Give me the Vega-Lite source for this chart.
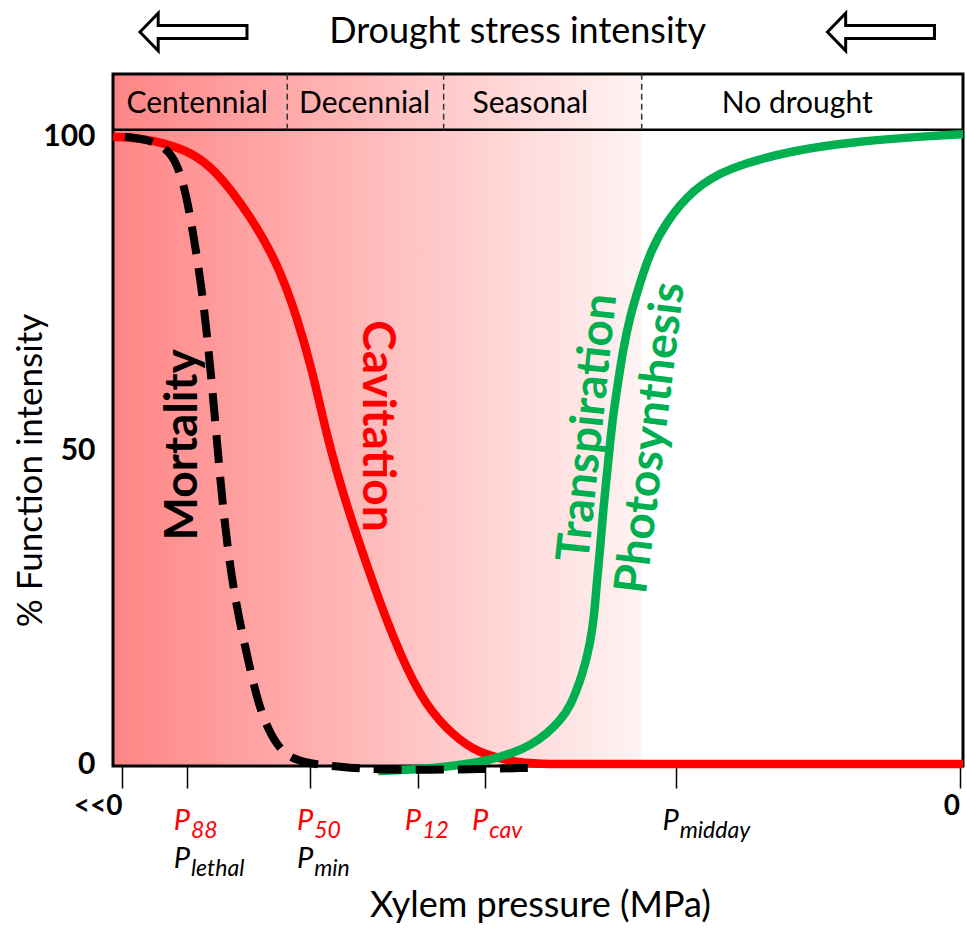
{
  "$schema": "https://vega.github.io/schema/vega-lite/v6.json",
  "width": 850,
  "height": 692,
  "autosize": {"type": "none"},
  "padding": {"left": 113, "top": 74, "right": 4, "bottom": 164},
  "background": "white",
  "config": {"view": {"stroke": null}, "font": "Lato", "text": {"font": "Lato"}},
  "datasets": {
    "curves": [
      {"curve": "Cavitation", "p": 0, "f": 100},
      {"curve": "Cavitation", "p": 3.2, "f": 99.8},
      {"curve": "Cavitation", "p": 5.9, "f": 99.0},
      {"curve": "Cavitation", "p": 9.1, "f": 97.6},
      {"curve": "Cavitation", "p": 12.1, "f": 94.7},
      {"curve": "Cavitation", "p": 16.1, "f": 87.5},
      {"curve": "Cavitation", "p": 19.3, "f": 80.0},
      {"curve": "Cavitation", "p": 21.6, "f": 71.5},
      {"curve": "Cavitation", "p": 23.5, "f": 62.5},
      {"curve": "Cavitation", "p": 25.2, "f": 52.0},
      {"curve": "Cavitation", "p": 27.3, "f": 42.0},
      {"curve": "Cavitation", "p": 29.9, "f": 31.5},
      {"curve": "Cavitation", "p": 32.9, "f": 20.2},
      {"curve": "Cavitation", "p": 36.1, "f": 10.7},
      {"curve": "Cavitation", "p": 39.3, "f": 5.4},
      {"curve": "Cavitation", "p": 42.4, "f": 2.2},
      {"curve": "Cavitation", "p": 45.2, "f": 1.0},
      {"curve": "Cavitation", "p": 47.9, "f": 0.2},
      {"curve": "Cavitation", "p": 50.5, "f": 0},
      {"curve": "Cavitation", "p": 60, "f": 0},
      {"curve": "Cavitation", "p": 100, "f": 0},
      {"curve": "Mortality", "p": 1.4, "f": 100},
      {"curve": "Mortality", "p": 4.4, "f": 99.5},
      {"curve": "Mortality", "p": 6.7, "f": 97.9},
      {"curve": "Mortality", "p": 8.2, "f": 93.6},
      {"curve": "Mortality", "p": 9.4, "f": 85.1},
      {"curve": "Mortality", "p": 10.6, "f": 74.4},
      {"curve": "Mortality", "p": 11.4, "f": 63.9},
      {"curve": "Mortality", "p": 12.2, "f": 52.1},
      {"curve": "Mortality", "p": 12.9, "f": 41.0},
      {"curve": "Mortality", "p": 14.1, "f": 27.8},
      {"curve": "Mortality", "p": 15.8, "f": 17.1},
      {"curve": "Mortality", "p": 17.3, "f": 8.2},
      {"curve": "Mortality", "p": 19.3, "f": 2.7},
      {"curve": "Mortality", "p": 21.2, "f": 0.7},
      {"curve": "Mortality", "p": 24.0, "f": -0.1},
      {"curve": "Mortality", "p": 27.9, "f": -0.6},
      {"curve": "Mortality", "p": 31.8, "f": -0.9},
      {"curve": "Mortality", "p": 37.3, "f": -0.9},
      {"curve": "Mortality", "p": 43.2, "f": -0.8},
      {"curve": "Mortality", "p": 48.8, "f": -0.6},
      {"curve": "Transpiration", "p": 31.2, "f": -1.1},
      {"curve": "Transpiration", "p": 36.1, "f": -0.8},
      {"curve": "Transpiration", "p": 40.2, "f": -0.3},
      {"curve": "Transpiration", "p": 44.4, "f": 0.65},
      {"curve": "Transpiration", "p": 47.1, "f": 1.8},
      {"curve": "Transpiration", "p": 49.1, "f": 3.0},
      {"curve": "Transpiration", "p": 51.1, "f": 4.9},
      {"curve": "Transpiration", "p": 52.6, "f": 7.0},
      {"curve": "Transpiration", "p": 53.8, "f": 9.1},
      {"curve": "Transpiration", "p": 55.3, "f": 14.5},
      {"curve": "Transpiration", "p": 56.1, "f": 19.0},
      {"curve": "Transpiration", "p": 56.6, "f": 23.4},
      {"curve": "Transpiration", "p": 56.9, "f": 28.8},
      {"curve": "Transpiration", "p": 57.3, "f": 34.1},
      {"curve": "Transpiration", "p": 57.6, "f": 39.4},
      {"curve": "Transpiration", "p": 58.0, "f": 44.8},
      {"curve": "Transpiration", "p": 58.4, "f": 50.1},
      {"curve": "Transpiration", "p": 58.8, "f": 55.3},
      {"curve": "Transpiration", "p": 59.4, "f": 60.7},
      {"curve": "Transpiration", "p": 60.0, "f": 66.0},
      {"curve": "Transpiration", "p": 60.8, "f": 71.3},
      {"curve": "Transpiration", "p": 62.0, "f": 76.7},
      {"curve": "Transpiration", "p": 63.2, "f": 81.6},
      {"curve": "Transpiration", "p": 65.0, "f": 86.3},
      {"curve": "Transpiration", "p": 68.2, "f": 91.6},
      {"curve": "Transpiration", "p": 72.2, "f": 95.0},
      {"curve": "Transpiration", "p": 80.0, "f": 97.9},
      {"curve": "Transpiration", "p": 87.9, "f": 99.3},
      {"curve": "Transpiration", "p": 95.8, "f": 100.1},
      {"curve": "Transpiration", "p": 100, "f": 100.4}
    ],
    "zones": [
      {"zone": "Centennial", "start": 0, "end": 20.5, "mid": 9.9},
      {"zone": "Decennial", "start": 20.5, "end": 38.9, "mid": 29.6},
      {"zone": "Seasonal", "start": 38.9, "end": 62.2, "mid": 49.1},
      {"zone": "No drought", "start": 62.2, "end": 100, "mid": 80.5}
    ],
    "stress": [{"from": 0, "to": 62.2}],
    "labels": [
      {"label": "Mortality", "p": 8.2, "f": 50.9},
      {"label": "Cavitation", "p": 31.0, "f": 53.9},
      {"label": "Transpiration", "p": 55.9, "f": 53.6},
      {"label": "Photosynthesis", "p": 63.3, "f": 52.0}
    ],
    "ticklabels": [
      {"p": 8.7, "row": 1, "sub": "88", "group": "hydraulic"},
      {"p": 8.7, "row": 2, "sub": "lethal", "group": "plant"},
      {"p": 23.2, "row": 1, "sub": "50", "group": "hydraulic"},
      {"p": 23.2, "row": 2, "sub": "min", "group": "plant"},
      {"p": 35.9, "row": 1, "sub": "12", "group": "hydraulic"},
      {"p": 43.8, "row": 1, "sub": "cav", "group": "hydraulic"},
      {"p": 66.2, "row": 1, "sub": "midday", "group": "plant"}
    ],
    "arrows": [{"p": 9.47}, {"p": 90.35}],
    "title": [{"t": "Drought stress intensity", "p": 47.6}]
  },
  "layer": [
    {
      "data": {"name": "stress"},
      "mark": {"type": "rect", "color": {"gradient": "linear", "x1": 0, "x2": 1, "y1": 0, "y2": 0, "stops": [{"offset": 0, "color": "#ff8585"}, {"offset": 1, "color": "#fff3f3"}]}},
      "encoding": {
        "x": {"field": "from", "type": "quantitative", "scale": {"domain": [0, 100], "nice": false, "zero": false},
          "axis": {"values": [1.06, 8.7, 23.2, 35.9, 43.8, 66.2, 99.6], "labelExpr": "datum.value < 2 ? '<<0' : (datum.value > 99 ? '0' : '')",
            "tickSize": 22, "tickWidth": 1.5, "tickColor": "black", "domain": false, "grid": false,
            "labelFont": "Lato", "labelFontSize": 28, "labelFontWeight": "bold", "labelColor": "black", "labelAlign": "right", "labelDx": 6, "labelPadding": 4, "labelFlush": false, "labelOverlap": false,
            "title": "Xylem pressure (MPa)", "titleFont": "Lato", "titleFontSize": 36, "titleFontWeight": "normal", "titleColor": "black", "titleX": 427, "titleY": 139, "titleBaseline": "middle"}},
        "x2": {"field": "to"},
        "y": {"datum": -0.3, "type": "quantitative", "scale": {"domain": [-0.3, 110], "nice": false, "zero": false},
          "axis": {"values": [0, 50, 100], "ticks": false, "tickSize": 0, "domain": false, "grid": false,
            "labelFont": "Lato", "labelFontSize": 30, "labelFontWeight": "bold", "labelColor": "black", "labelPadding": 18,
            "title": "% Function intensity", "titleFont": "Lato", "titleFontSize": 35, "titleFontWeight": "normal", "titleColor": "black", "titleX": -83, "titleY": 396, "titleBaseline": "middle", "titleAngle": 270}},
        "y2": {"datum": 110}
      }
    },
    {
      "data": {"values": [{}]},
      "mark": {"type": "rect", "fill": null, "filled": false, "stroke": "black", "strokeWidth": 3},
      "encoding": {"x": {"datum": 0}, "x2": {"datum": 100}, "y": {"datum": -0.3}, "y2": {"datum": 110}}
    },
    {
      "data": {"values": [{}]},
      "mark": {"type": "rule", "color": "black", "strokeWidth": 2.5},
      "encoding": {"x": {"datum": 0}, "x2": {"datum": 100}, "y": {"datum": 101.1}}
    },
    {
      "data": {"name": "zones"},
      "transform": [{"filter": "datum.end < 100"}],
      "mark": {"type": "rule", "color": "#333333", "strokeWidth": 1.5, "strokeDash": [6, 4]},
      "encoding": {"x": {"field": "end", "type": "quantitative"}, "y": {"datum": 101.1}, "y2": {"datum": 110}}
    },
    {
      "data": {"name": "zones"},
      "mark": {"type": "text", "fontSize": 30, "color": "black", "baseline": "middle", "align": "center"},
      "encoding": {"x": {"field": "mid", "type": "quantitative"}, "y": {"datum": 105.2}, "text": {"field": "zone"}}
    },
    {
      "data": {"name": "curves"},
      "transform": [{"filter": "datum.curve == 'Cavitation'"}],
      "mark": {"type": "line", "color": "#ff0000", "strokeWidth": 8.5, "interpolate": "basis"},
      "encoding": {"x": {"field": "p", "type": "quantitative"}, "y": {"field": "f", "type": "quantitative"}}
    },
    {
      "data": {"name": "curves"},
      "transform": [{"filter": "datum.curve == 'Transpiration'"}],
      "mark": {"type": "line", "color": "#00b050", "strokeWidth": 8.5, "interpolate": "basis"},
      "encoding": {"x": {"field": "p", "type": "quantitative"}, "y": {"field": "f", "type": "quantitative"}}
    },
    {
      "data": {"name": "curves"},
      "transform": [{"filter": "datum.curve == 'Mortality'"}],
      "mark": {"type": "line", "color": "black", "strokeWidth": 8, "strokeDash": [28, 14], "interpolate": "basis"},
      "encoding": {"x": {"field": "p", "type": "quantitative"}, "y": {"field": "f", "type": "quantitative"}}
    },
    {
      "data": {"name": "labels"},
      "transform": [{"filter": "datum.label == 'Mortality'"}],
      "mark": {"type": "text", "angle": 270, "fontSize": 46, "fontWeight": "bold", "color": "black", "baseline": "middle", "align": "center"},
      "encoding": {"x": {"field": "p", "type": "quantitative"}, "y": {"field": "f", "type": "quantitative"}, "text": {"field": "label"}}
    },
    {
      "data": {"name": "labels"},
      "transform": [{"filter": "datum.label == 'Cavitation'"}],
      "mark": {"type": "text", "angle": 90, "fontSize": 46, "fontWeight": "bold", "color": "#ff0000", "baseline": "middle", "align": "center"},
      "encoding": {"x": {"field": "p", "type": "quantitative"}, "y": {"field": "f", "type": "quantitative"}, "text": {"field": "label"}}
    },
    {
      "data": {"name": "labels"},
      "transform": [{"filter": "datum.label == 'Transpiration'"}],
      "mark": {"type": "text", "angle": 276, "fontSize": 46, "fontWeight": "bold", "color": "#00b050", "baseline": "middle", "align": "center"},
      "encoding": {"x": {"field": "p", "type": "quantitative"}, "y": {"field": "f", "type": "quantitative"}, "text": {"field": "label"}}
    },
    {
      "data": {"name": "labels"},
      "transform": [{"filter": "datum.label == 'Photosynthesis'"}],
      "mark": {"type": "text", "angle": 277, "fontSize": 46, "fontWeight": "bold", "color": "#00b050", "baseline": "middle", "align": "center"},
      "encoding": {"x": {"field": "p", "type": "quantitative"}, "y": {"field": "f", "type": "quantitative"}, "text": {"field": "label"}}
    },
    {
      "data": {"name": "ticklabels"},
      "transform": [{"filter": "datum.row == 1"}],
      "mark": {"type": "text", "fontSize": 29, "fontStyle": "italic", "align": "right", "baseline": "alphabetic", "dx": 3, "text": "P"},
      "encoding": {"x": {"field": "p", "type": "quantitative"}, "y": {"datum": -10.5},
        "color": {"field": "group", "type": "nominal", "scale": {"domain": ["hydraulic", "plant"], "range": ["#ff0000", "#000000"]}, "legend": null}}
    },
    {
      "data": {"name": "ticklabels"},
      "transform": [{"filter": "datum.row == 1"}],
      "mark": {"type": "text", "fontSize": 23, "fontStyle": "italic", "align": "left", "baseline": "alphabetic", "dx": 4, "dy": 8},
      "encoding": {"x": {"field": "p", "type": "quantitative"}, "y": {"datum": -10.5}, "text": {"field": "sub"},
        "color": {"field": "group", "type": "nominal", "legend": null}}
    },
    {
      "data": {"name": "ticklabels"},
      "transform": [{"filter": "datum.row == 2"}],
      "mark": {"type": "text", "fontSize": 29, "fontStyle": "italic", "align": "right", "baseline": "alphabetic", "dx": 3, "text": "P"},
      "encoding": {"x": {"field": "p", "type": "quantitative"}, "y": {"datum": -16.5},
        "color": {"field": "group", "type": "nominal", "legend": null}}
    },
    {
      "data": {"name": "ticklabels"},
      "transform": [{"filter": "datum.row == 2"}],
      "mark": {"type": "text", "fontSize": 23, "fontStyle": "italic", "align": "left", "baseline": "alphabetic", "dx": 4, "dy": 8},
      "encoding": {"x": {"field": "p", "type": "quantitative"}, "y": {"datum": -16.5}, "text": {"field": "sub"},
        "color": {"field": "group", "type": "nominal", "legend": null}}
    },
    {
      "data": {"name": "arrows"},
      "mark": {"type": "point", "shape": "M -1 0 L -0.66 -0.35 L -0.66 -0.12 L 1 -0.12 L 1 0.12 L -0.66 0.12 L -0.66 0.35 Z", "size": 11449, "filled": false, "stroke": "black", "strokeWidth": 3, "opacity": 1},
      "encoding": {"x": {"field": "p", "type": "quantitative"}, "y": {"datum": 116.7}}
    },
    {
      "data": {"name": "title"},
      "mark": {"type": "text", "fontSize": 36, "color": "black", "baseline": "middle", "align": "center"},
      "encoding": {"x": {"field": "p", "type": "quantitative"}, "y": {"datum": 116.7}, "text": {"field": "t"}}
    }
  ]
}
